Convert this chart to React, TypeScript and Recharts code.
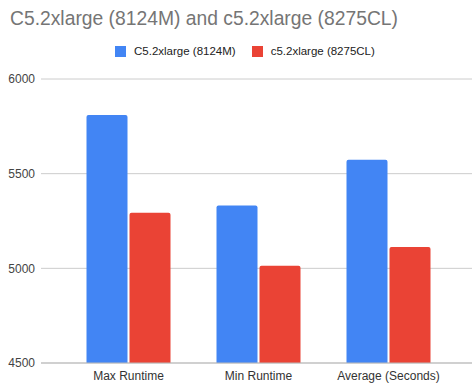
import React from 'react';
import { BarChart, Bar, XAxis, YAxis, CartesianGrid } from 'recharts';

const categories = ['Max Runtime', 'Min Runtime', 'Average (Seconds)'];
const series8124M = [5810, 5332, 5573];
const series8275CL = [5293, 5014, 5113];
const yTicks = [4500, 5000, 5500, 6000];
const seriesNames = ['C5.2xlarge (8124M)', 'c5.2xlarge (8275CL)'];
const titleText = 'C5.2xlarge (8124M) and c5.2xlarge (8275CL)';

const data = categories.map((c, i) => ({ name: c, a: series8124M[i], b: series8275CL[i] }));

const BLUE = '#4285F4';
const RED = '#EA4335';
const FONT = '"Liberation Sans", Arial, sans-serif';

export default function App() {
  return (
    <div style={{ position: 'absolute', left: 0, top: 0, width: 472, height: 386, background: '#fff' }}>
      <div
        style={{
          position: 'absolute',
          left: 10,
          top: 8,
          fontFamily: FONT,
          fontSize: 19.3,
          color: '#757575',
          whiteSpace: 'nowrap',
          lineHeight: '22px',
        }}
      >
        {titleText}
      </div>
      <div
        style={{
          position: 'absolute',
          left: 115,
          top: 45,
          display: 'flex',
          alignItems: 'center',
          fontFamily: FONT,
          fontSize: 11.5,
          color: '#222',
          lineHeight: '13px',
          whiteSpace: 'nowrap',
        }}
      >
        <span style={{ width: 11, height: 11, background: BLUE, display: 'inline-block', marginRight: 8 }} />
        <span style={{ marginRight: 16 }}>{seriesNames[0]}</span>
        <span style={{ width: 11, height: 11, background: RED, display: 'inline-block', marginRight: 8 }} />
        <span>{seriesNames[1]}</span>
      </div>
      <BarChart
        width={472}
        height={386}
        data={data}
        margin={{ top: 79, right: 0, bottom: 0, left: 0 }}
        barGap={2}
        barSize={41}
        style={{ position: 'absolute', left: 0, top: 0 }}
      >
        <CartesianGrid vertical={false} stroke="#cccccc" />
        <XAxis
          dataKey="name"
          height={23}
          padding={{ left: 22.5, right: 18.5 }}
          tickLine={false}
          axisLine={{ stroke: '#bbbbbb' }}
          tick={{ fontFamily: FONT, fontSize: 12, fill: '#333' }}
          interval={0}
        />
        <YAxis
          width={41}
          domain={[4500, 6000]}
          ticks={yTicks}
          allowDataOverflow
          axisLine={false}
          tickLine={false}
          tickSize={6}
          tickMargin={0}
          tick={{ fontFamily: FONT, fontSize: 12, fill: '#444' }}
        />
        <Bar dataKey="a" name={seriesNames[0]} fill={BLUE} isAnimationActive={false} radius={[2, 2, 0, 0]} />
        <Bar dataKey="b" name={seriesNames[1]} fill={RED} isAnimationActive={false} radius={[2, 2, 0, 0]} />
      </BarChart>
    </div>
  );
}
